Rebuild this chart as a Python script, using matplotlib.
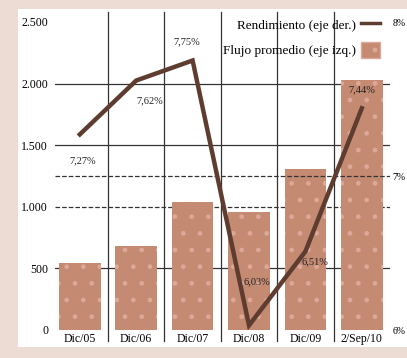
import matplotlib.pyplot as plt
from matplotlib.patches import Rectangle, Patch
from matplotlib.lines import Line2D

categorias = ["Dic/05", "Dic/06", "Dic/07", "Dic/08", "Dic/09", "2/Sep/10"]
flujo = [540, 680, 1040, 960, 1310, 2030]
rendimiento = [7.27, 7.62, 7.75, 6.03, 6.51, 7.44]
etiquetas_rend = ["7,27%", "7,62%", "7,75%", "6,03%", "6,51%", "7,44%"]
yticks_izq = [0, 500, 1000, 1500, 2000, 2500]
ytick_labels_izq = ["0", "500", "1.000", "1.500", "2.000", "2.500"]
yticks_der = [6, 7, 8]
ytick_labels_der = ["6%", "7%", "8%"]

W, H = 407, 358
fig = plt.figure(figsize=(W / 100, H / 100), dpi=100)
fig.patch.set_facecolor("#ecdcd4")
fig.patches.append(Rectangle((18 / W, 1 - 347 / H), 1, (347 - 9) / H,
                             transform=fig.transFigure, facecolor="white",
                             edgecolor="none", zorder=-5))

plt.rcParams["font.family"] = ["Liberation Serif", "DejaVu Serif"]
fs = 8.5

ax = fig.add_axes([55 / W, 1 - 330 / H, (390 - 55) / W, (330 - 22) / H])
ax.patch.set_alpha(0)
x = list(range(len(categorias)))

bar_col = "#c48a72"
ax.bar(x, flujo, width=0.74, color=bar_col, edgecolor="#dca898",
       hatch=".", linewidth=0, zorder=2)

ax.set_xlim(-0.44, 5.5)
ax.set_ylim(0, 2500)

# horizontal grid
for v, ls in [(500, "-"), (1000, "--"), (1500, "-"), (2000, "-")]:
    ax.axhline(v, color="#333333", lw=0.9, ls=ls, zorder=1)
# vertical separators
for xv in [0.5, 1.5, 2.5, 3.5, 4.5]:
    ax.plot([xv, xv], [-90, 2580], color="#333333", lw=0.9, zorder=1,
            clip_on=False)

ax.set_yticks(yticks_izq)
ax.set_yticklabels(ytick_labels_izq, fontsize=fs)
ax.set_xticks(x)
ax.set_xticklabels(categorias, fontsize=fs)
ax.tick_params(length=0, pad=2)
ax.tick_params(axis="y", pad=5)
for s in ax.spines.values():
    s.set_visible(False)

ax2 = ax.twinx()
ax2.set_ylim(6, 8)
ax2.axhline(7, color="#333333", lw=0.9, ls="--", zorder=1)
line_col = "#5e3d30"
ax2.plot(x, rendimiento, color=line_col, lw=3.2, zorder=3,
         solid_joinstyle="miter")
ax2.set_yticks(yticks_der)
ax2.set_yticklabels(ytick_labels_der, fontsize=fs - 1.5)
ax2.tick_params(length=0, pad=2)
for s in ax2.spines.values():
    s.set_visible(False)

offsets = [(0.05, -0.17), (0.24, -0.13), (-0.1, 0.12), (0.14, 0.28),
           (0.17, -0.07), (0.0, 0.12)]
for xi, yi, lab, (dx, dy) in zip(x, rendimiento, etiquetas_rend, offsets):
    ax2.text(xi + dx, yi + dy, lab, fontsize=fs - 1, ha="center",
             va="center", color="#222222", zorder=4)

# legend
handles = [Line2D([0], [0], color=line_col, lw=2.5),
           Patch(facecolor=bar_col, edgecolor="#dca898", hatch=".")]
leg = ax.legend(handles, ["Rendimiento (eje der.)", "Flujo promedio (eje izq.)"],
                loc="upper right", bbox_to_anchor=(0.985, 1.035), frameon=False,
                markerfirst=False, fontsize=9.5, handlelength=1.4,
                handleheight=1.5, handletextpad=0.4, labelspacing=0.7,
                borderaxespad=0)

fig.savefig("out.png", dpi=100, facecolor=fig.get_facecolor())
